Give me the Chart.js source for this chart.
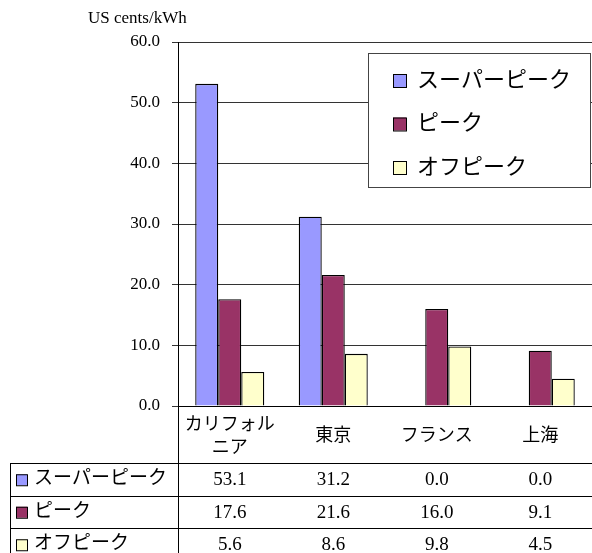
<!DOCTYPE html>
<html>
<head>
<meta charset="utf-8">
<script src="https://cdn.jsdelivr.net/npm/chart.js@4/dist/chart.umd.min.js"></script>
<style>
  body { margin: 0; background: #fff; }
  canvas { display: block; }
</style>
</head>
<body>
<canvas id="c" width="592" height="553"></canvas>
<script>
// data
const categories = [['カリフォル', 'ニア'], '東京', 'フランス', '上海'];
const seriesNames = ['スーパーピーク', 'ピーク', 'オフピーク'];
const superPeak = [53.1, 31.2, 0.0, 0.0];
const peak = [17.6, 21.6, 16.0, 9.1];
const offPeak = [5.6, 8.6, 9.8, 4.5];
const yTicks = [0, 10, 20, 30, 40, 50, 60];
const unitLabel = 'US cents/kWh';

const colors = ['#9999FF', '#993366', '#FFFFCC'];
const SERIF = "'Liberation Serif', 'Times New Roman', 'Noto Sans CJK JP', serif";

// title, in-plot legend box and the data table under the axis
const extras = {
  id: 'extras',
  afterDraw(chart) {
    const { ctx, chartArea: a, scales: { x } } = chart;
    const sets = chart.data.datasets;
    ctx.save();
    ctx.fillStyle = '#000';
    ctx.textBaseline = 'middle';

    ctx.font = '17px ' + SERIF;
    ctx.textAlign = 'left';
    ctx.fillText(unitLabel, 88, 19);

    // legend
    const bl = a.right - 224, bt = a.top + 11, bw = 222, bh = 134;
    ctx.fillStyle = '#fff';
    ctx.fillRect(bl, bt, bw, bh);
    ctx.strokeStyle = '#444';
    ctx.lineWidth = 1;
    ctx.strokeRect(bl + 0.5, bt + 0.5, bw, bh);
    ctx.font = '22px ' + SERIF;
    sets.forEach((d, i) => {
      const cy = bt + 27 + i * 43.5;
      ctx.fillStyle = d.backgroundColor;
      ctx.fillRect(bl + 25, cy - 6, 13, 13);
      ctx.strokeStyle = '#000';
      ctx.strokeRect(bl + 25.5, cy - 5.5, 13, 13);
      ctx.fillStyle = '#000';
      ctx.fillText(d.label, bl + 49, cy + 1);
    });

    // table
    const top = x.bottom, rowH = 32.5, left = 10, W = chart.width, H = chart.height;
    ctx.strokeStyle = '#000';
    ctx.beginPath();
    ctx.moveTo(a.left + 0.5, a.bottom); ctx.lineTo(a.left + 0.5, H);
    ctx.moveTo(left + 0.5, top); ctx.lineTo(left + 0.5, H);
    for (let r = 0; r < 3; r++) {
      const yy = Math.round(top + r * rowH) + 0.5;
      ctx.moveTo(left, yy); ctx.lineTo(W, yy);
    }
    ctx.stroke();

    sets.forEach((d, i) => {
      const cy = top + rowH * (i + 0.5);
      ctx.fillStyle = d.backgroundColor;
      ctx.fillRect(16, cy - 5, 11, 11);
      ctx.strokeStyle = '#000';
      ctx.strokeRect(16.5, cy - 4.5, 11, 11);
      ctx.fillStyle = '#000';
      ctx.textAlign = 'left';
      ctx.font = '19px ' + SERIF;
      ctx.fillText(d.label, 34, cy);
      ctx.textAlign = 'center';
      d.data.forEach((v, j) => {
        ctx.fillText(v.toFixed(1), x.getPixelForValue(j), cy + 1);
      });
    });
    ctx.restore();
  }
};

const mk = (label, data, color) => ({
  label, data,
  backgroundColor: color,
  borderColor: '#000',
  borderWidth: c => (c.raw === 0 ? 0 : 1.3),
  borderSkipped: 'start',
  barPercentage: 1,
  categoryPercentage: 0.667
});

new Chart(document.getElementById('c'), {
  type: 'bar',
  data: {
    labels: categories,
    datasets: [
      mk(seriesNames[0], superPeak, colors[0]),
      mk(seriesNames[1], peak, colors[1]),
      mk(seriesNames[2], offPeak, colors[2])
    ]
  },
  options: {
    responsive: false,
    animation: false,
    layout: { padding: { top: 42, right: 0, bottom: 90, left: 0 } },
    plugins: { legend: { display: false }, tooltip: { enabled: false } },
    scales: {
      x: {
        grid: { display: false, drawTicks: false },
        border: { color: '#000' },
        ticks: {
          color: '#000',
          font: { family: SERIF, size: 18, lineHeight: 1.28 },
          padding: 19,
          crossAlign: 'center',
          maxRotation: 0
        },
        afterFit: s => { s.height = 57; }
      },
      y: {
        min: 0, max: 60,
        afterBuildTicks: s => { s.ticks = yTicks.map(v => ({ value: v })); },
        grid: { color: '#333', tickLength: 6 },
        border: { color: '#000' },
        ticks: {
          color: '#000',
          font: { family: SERIF, size: 17 },
          padding: 12,
          callback: v => v.toFixed(1)
        },
        afterFit: s => { s.width = 178; }
      }
    }
  },
  plugins: [extras]
});
</script>
</body>
</html>
